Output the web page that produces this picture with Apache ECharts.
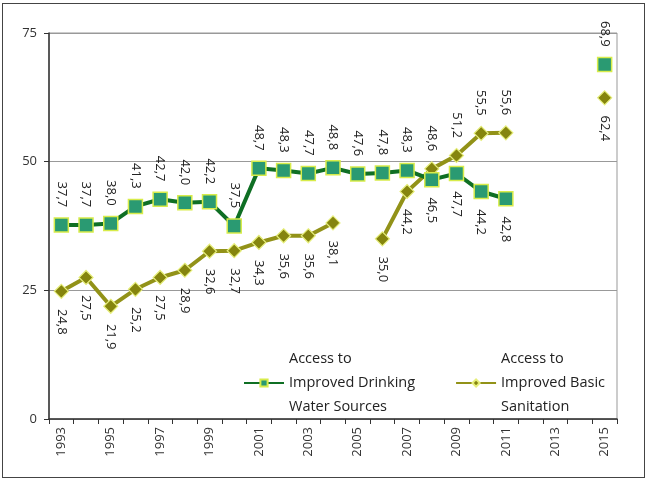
<!DOCTYPE html>
<html>
<head>
<meta charset="utf-8">
<script src="https://cdn.jsdelivr.net/npm/echarts@6/dist/echarts.min.js"></script>
<style>
  html, body { margin: 0; padding: 0; background: #fff; }
  #frame {
    position: absolute; left: 2px; top: 3px; width: 641px; height: 473px;
    border: 1.5px solid #444;
  }
  #chart { position: absolute; left: 0; top: 0; width: 648px; height: 484px; }
</style>
</head>
<body>
<div id="frame"></div>
<div id="chart"></div>
<script>
const years = ["1993","1994","1995","1996","1997","1998","1999","2000","2001","2002","2003",
  "2004","2005","2006","2007","2008","2009","2010","2011","2012","2013","2014","2015"];

const water = [37.7, 37.7, 38.0, 41.3, 42.7, 42.0, 42.2, 37.5, 48.7, 48.3, 47.7,
  48.8, 47.6, 47.8, 48.3, 46.5, 47.7, 44.2, 42.8, null, null, null, 68.9];

const sanitation = [24.8, 27.5, 21.9, 25.2, 27.5, 28.9, 32.6, 32.7, 34.3, 35.6, 35.6,
  38.1, null, 35.0, 44.2, 48.6, 51.2, 55.5, 55.6, null, null, null, 62.4];

// years where the label sits below the point
const waterBelow = ["2008", "2009", "2010", "2011"];
const sanitationAbove = ["2008", "2009", "2010", "2011"];

const yTicks = [0, 25, 50, 75];

const fmt = (v) => v.toFixed(1).replace(".", ",");

const labelAbove = {
  show: true, position: "top", distance: 10, rotate: -90,
  align: "right", verticalAlign: "middle",
  fontSize: 13, color: "#222", fontFamily: "Open Sans",
  formatter: (p) => fmt(p.value)
};
const labelBelow = Object.assign({}, labelAbove, { position: "bottom", align: "left" });

function buildData(values, aboveTest) {
  return values.map((v, i) => {
    if (v == null) return null;
    return { value: v, label: aboveTest(years[i]) ? labelAbove : labelBelow };
  });
}

const chart = echarts.init(document.getElementById("chart"));

chart.setOption({
  animation: false,
  textStyle: { fontFamily: "Open Sans" },
  grid: {
    left: 49, right: 31, top: 33, bottom: 65,
    show: true, borderColor: "#999", borderWidth: 1
  },
  legend: {
    left: 238, top: 342,
    itemWidth: 40, itemHeight: 9, itemGap: 40,
    textStyle: { fontSize: 14.5, color: "#222", lineHeight: 24, fontFamily: "Open Sans" },
    data: ["Access to\nImproved Drinking\nWater Sources", "Access to\nImproved Basic\nSanitation"]
  },
  xAxis: {
    type: "category",
    data: years,
    boundaryGap: true,
    axisLine: { lineStyle: { color: "#333", width: 1.5 } },
    axisTick: { show: true, interval: 0, length: 5, lineStyle: { color: "#333" } },
    axisLabel: { interval: 1, rotate: 90, fontSize: 13, color: "#333", margin: 8 },
    splitLine: { show: false }
  },
  yAxis: {
    type: "value",
    min: yTicks[0], max: yTicks[yTicks.length - 1], interval: 25,
    axisLine: { show: true, lineStyle: { color: "#333", width: 1.5 } },
    axisTick: { show: true, length: 5, lineStyle: { color: "#333" } },
    axisLabel: { fontSize: 13, color: "#333", margin: 12 },
    splitLine: { show: true, lineStyle: { color: "#999", width: 1 } }
  },
  series: [
    {
      name: "Access to\nImproved Drinking\nWater Sources",
      type: "line",
      data: buildData(water, (y) => !waterBelow.includes(y)),
      connectNulls: false,
      symbol: "rect",
      symbolSize: 14,
      showAllSymbol: true,
      lineStyle: { color: "#0f6f24", width: 4 },
      itemStyle: { color: "#2a9a72", borderColor: "#d8ec4a", borderWidth: 1.5 },
      z: 3
    },
    {
      name: "Access to\nImproved Basic\nSanitation",
      type: "line",
      data: buildData(sanitation, (y) => sanitationAbove.includes(y)),
      connectNulls: false,
      symbol: "diamond",
      symbolSize: 14,
      showAllSymbol: true,
      lineStyle: { color: "#929218", width: 4 },
      itemStyle: { color: "#85850e", borderColor: "#e6ee7a", borderWidth: 1.2 },
      z: 2
    }
  ]
});
</script>
</body>
</html>
